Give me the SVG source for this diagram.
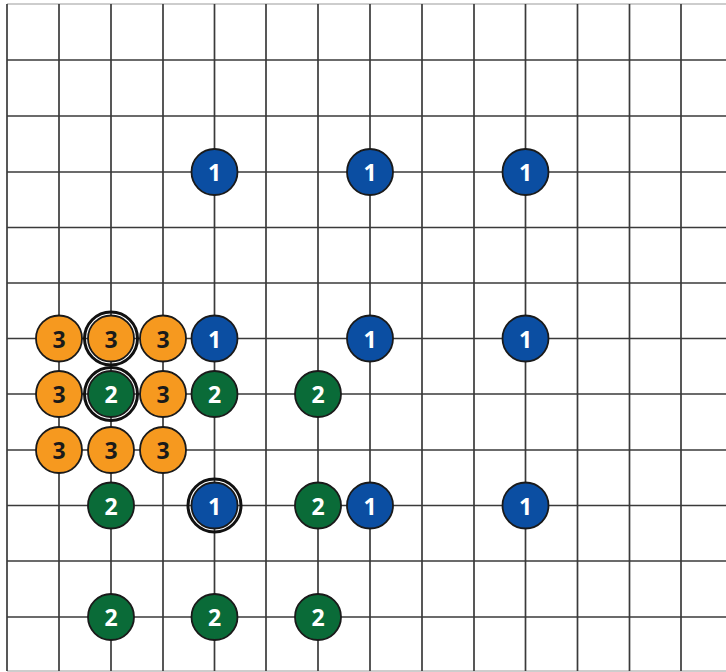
<svg xmlns="http://www.w3.org/2000/svg" width="726" height="672" viewBox="0 0 726 672">
<style>
.g{stroke:#3a3a3a;stroke-width:1.7}
.edge{stroke:#bdbdbd;stroke-width:1.6}
.s{stroke:#1a1a1a;stroke-width:1.8}
.b{fill:#0B4EA2}
.gr{fill:#0A6B38}
.o{fill:#F6991F}
.ring{fill:none;stroke:#111;stroke-width:3}
text{font-family:"Open Sans","Liberation Sans",sans-serif;font-weight:bold;font-size:23px;text-anchor:middle;dominant-baseline:central}
.w{fill:#fff}
.k{fill:#1a1a1a}
</style>
<rect width="726" height="672" fill="#fff"/>
<g id="grid">
<line class="edge" x1="7" y1="4" x2="726" y2="4"/>
<line class="edge" x1="7" y1="671" x2="726" y2="671"/>
<line class="g" x1="7" y1="60" x2="726" y2="60"/>
<line class="g" x1="7" y1="116" x2="726" y2="116"/>
<line class="g" x1="7" y1="172" x2="726" y2="172"/>
<line class="g" x1="7" y1="227.5" x2="726" y2="227.5"/>
<line class="g" x1="7" y1="283" x2="726" y2="283"/>
<line class="g" x1="7" y1="338.5" x2="726" y2="338.5"/>
<line class="g" x1="7" y1="394" x2="726" y2="394"/>
<line class="g" x1="7" y1="450" x2="726" y2="450"/>
<line class="g" x1="7" y1="505.5" x2="726" y2="505.5"/>
<line class="g" x1="7" y1="561" x2="726" y2="561"/>
<line class="g" x1="7" y1="617" x2="726" y2="617"/>
<line class="g" x1="7" y1="4" x2="7" y2="671"/>
<line class="g" x1="59" y1="4" x2="59" y2="671"/>
<line class="g" x1="111" y1="4" x2="111" y2="671"/>
<line class="g" x1="163" y1="4" x2="163" y2="671"/>
<line class="g" x1="214.5" y1="4" x2="214.5" y2="671"/>
<line class="g" x1="266" y1="4" x2="266" y2="671"/>
<line class="g" x1="318" y1="4" x2="318" y2="671"/>
<line class="g" x1="370" y1="4" x2="370" y2="671"/>
<line class="g" x1="422" y1="4" x2="422" y2="671"/>
<line class="g" x1="474" y1="4" x2="474" y2="671"/>
<line class="g" x1="525.5" y1="4" x2="525.5" y2="671"/>
<line class="g" x1="577.5" y1="4" x2="577.5" y2="671"/>
<line class="g" x1="629.5" y1="4" x2="629.5" y2="671"/>
<line class="g" x1="681" y1="4" x2="681" y2="671"/>
</g>
<g id="b1"><circle class="s b" cx="214.5" cy="172" r="23"/><text class="w" x="214.5" y="172">1</text></g>
<g id="b2"><circle class="s b" cx="370" cy="172" r="23"/><text class="w" x="370" y="172">1</text></g>
<g id="b3"><circle class="s b" cx="525.5" cy="172" r="23"/><text class="w" x="525.5" y="172">1</text></g>
<g id="o1"><circle class="s o" cx="59" cy="338.5" r="23"/><text class="k" x="59" y="338.5">3</text></g>
<g id="o2"><circle class="ring" cx="111" cy="338.5" r="26.5"/><circle class="s o" cx="111" cy="338.5" r="23"/><text class="k" x="111" y="338.5">3</text></g>
<g id="o3"><circle class="s o" cx="163" cy="338.5" r="23"/><text class="k" x="163" y="338.5">3</text></g>
<g id="b4"><circle class="s b" cx="214.5" cy="338.5" r="23"/><text class="w" x="214.5" y="338.5">1</text></g>
<g id="b5"><circle class="s b" cx="370" cy="338.5" r="23"/><text class="w" x="370" y="338.5">1</text></g>
<g id="b6"><circle class="s b" cx="525.5" cy="338.5" r="23"/><text class="w" x="525.5" y="338.5">1</text></g>
<g id="o4"><circle class="s o" cx="59" cy="394" r="23"/><text class="k" x="59" y="394">3</text></g>
<g id="g1"><circle class="ring" cx="111" cy="394" r="26.5"/><circle class="s gr" cx="111" cy="394" r="23"/><text class="w" x="111" y="394">2</text></g>
<g id="o5"><circle class="s o" cx="163" cy="394" r="23"/><text class="k" x="163" y="394">3</text></g>
<g id="g2"><circle class="s gr" cx="214.5" cy="394" r="23"/><text class="w" x="214.5" y="394">2</text></g>
<g id="g3"><circle class="s gr" cx="318" cy="394" r="23"/><text class="w" x="318" y="394">2</text></g>
<g id="o6"><circle class="s o" cx="59" cy="450" r="23"/><text class="k" x="59" y="450">3</text></g>
<g id="o7"><circle class="s o" cx="111" cy="450" r="23"/><text class="k" x="111" y="450">3</text></g>
<g id="o8"><circle class="s o" cx="163" cy="450" r="23"/><text class="k" x="163" y="450">3</text></g>
<g id="g4"><circle class="s gr" cx="111" cy="505.5" r="23"/><text class="w" x="111" y="505.5">2</text></g>
<g id="b7"><circle class="ring" cx="214.5" cy="505.5" r="26.5"/><circle class="s b" cx="214.5" cy="505.5" r="23"/><text class="w" x="214.5" y="505.5">1</text></g>
<g id="g5"><circle class="s gr" cx="318" cy="505.5" r="23"/><text class="w" x="318" y="505.5">2</text></g>
<g id="b8"><circle class="s b" cx="370" cy="505.5" r="23"/><text class="w" x="370" y="505.5">1</text></g>
<g id="b9"><circle class="s b" cx="525.5" cy="505.5" r="23"/><text class="w" x="525.5" y="505.5">1</text></g>
<g id="g6"><circle class="s gr" cx="111" cy="617" r="23"/><text class="w" x="111" y="617">2</text></g>
<g id="g7"><circle class="s gr" cx="214.5" cy="617" r="23"/><text class="w" x="214.5" y="617">2</text></g>
<g id="g8"><circle class="s gr" cx="318" cy="617" r="23"/><text class="w" x="318" y="617">2</text></g>
</svg>
